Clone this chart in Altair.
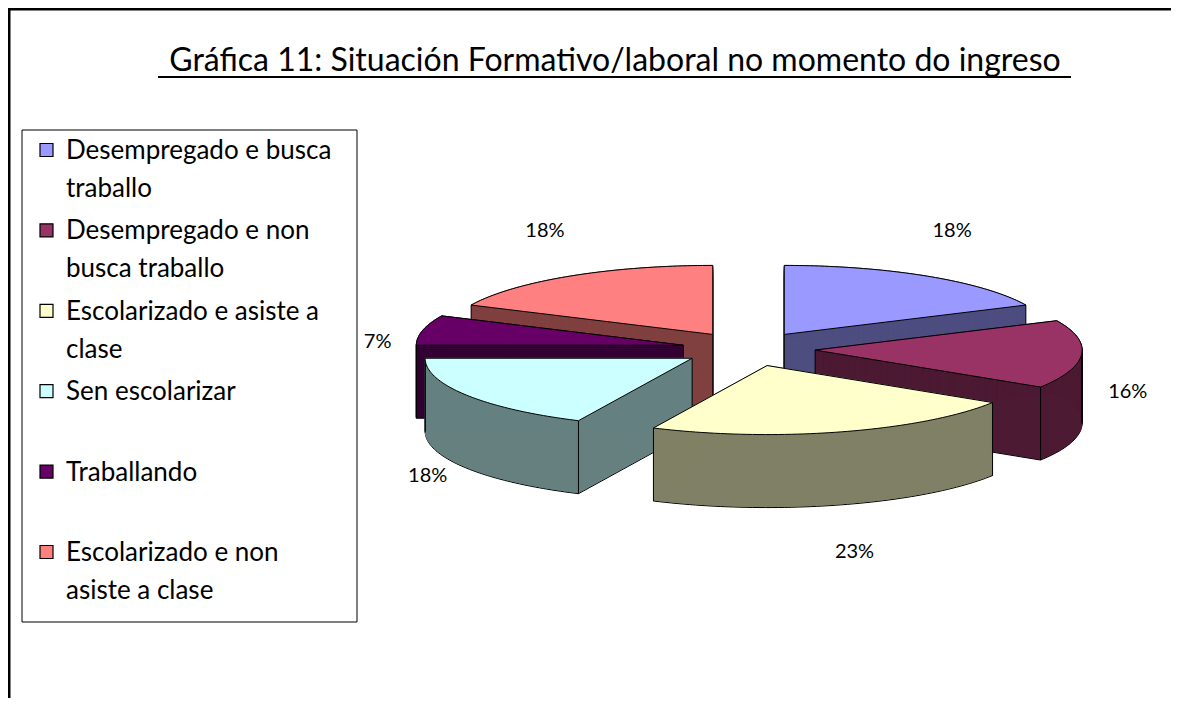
import math
import altair as alt
import pandas as pd

# ---------------- data ----------------
categories = [
    "Desempregado e busca traballo",
    "Desempregado e non busca traballo",
    "Escolarizado e asiste a clase",
    "Sen escolarizar",
    "Traballando",
    "Escolarizado e non asiste a clase",
]
legend_text = [
    "Desempregado e busca\ntraballo",
    "Desempregado e non\nbusca traballo",
    "Escolarizado e asiste a\nclase",
    "Sen escolarizar",
    "Traballando",
    "Escolarizado e non\nasiste a clase",
]
values = [18, 16, 23, 18, 7, 18]
title_text = "Gráfica 11: Situación Formativo/laboral no momento do ingreso"

# ---------------- style ----------------
top_colors = ["#9999FF", "#993366", "#FFFFCC", "#CCFFFF", "#660066", "#FF8080"]
side_colors = ["#4D4D80", "#4D1A33", "#808066", "#668080", "#330033", "#804040"]
FONT = "Lato"

W, H = 1163, 690
CX, CY = 740.5, 341.0      # pie centre (chart pixels)
RX, RY = 267.0, 69.0       # ellipse radii of the top face
EXPLODE = 0.25             # explosion as fraction of radius
DEPTH = 73                 # thickness of the pie
N = 60                     # arc segments per slice

df = pd.DataFrame({
    "cat": categories,
    "label": legend_text,
    "value": values,
    "idx": list(range(len(values))),
})

X = lambda f: alt.X(f, type="quantitative", scale=alt.Scale(domain=[0, W], nice=False, zero=False), axis=None)
Y = lambda f: alt.Y(f, type="quantitative", scale=alt.Scale(domain=[0, H], nice=False, zero=False, reverse=True), axis=None)

pie_base = (
    alt.Chart(df)
    .transform_joinaggregate(total="sum(value)")
    .transform_window(cum="sum(value)", sort=[alt.SortField("idx")], frame=[None, 0])
    .transform_calculate(
        a0="2*PI*(datum.cum - datum.value)/datum.total",
        a1="2*PI*datum.cum/datum.total",
    )
    .transform_calculate(mid="(datum.a0 + datum.a1)/2")
    .transform_calculate(
        ox=f"{CX} + {EXPLODE}*{RX}*sin(datum.mid)",
        oy=f"{CY} - {EXPLODE}*{RY}*cos(datum.mid)",
    )
)

poly_base = (
    pie_base
    .transform_calculate(k=f"sequence(0, {N + 3})")
    .transform_flatten(["k"])
    .transform_calculate(
        ang=f"datum.a0 + (datum.a1 - datum.a0)*clamp((datum.k - 1)/{N}, 0, 1)",
        onarc=f"datum.k >= 1 && datum.k <= {N + 1} ? 1 : 0",
    )
    .transform_calculate(
        px=f"datum.ox + datum.onarc*{RX}*sin(datum.ang)",
        py=f"datum.oy - datum.onarc*{RY}*cos(datum.ang)",
    )
)

# visible vertical edges of each slice
edge_vis = (
    f"(datum.k == 0 && (sin(datum.a0) < -1e-6 || sin(datum.a1) > 1e-6))"
    f" || (datum.k == 1 && (cos(datum.a0) < 0 || sin(datum.a0) < -1e-6))"
    f" || (datum.k == {N + 1} && (cos(datum.a1) < 0 || sin(datum.a1) > 1e-6))"
    f" || (datum.onarc == 1 && abs(sin(datum.ang)) > 0.9997)"
)

# painter's order: back (north) slices first
tot = sum(values)
cum = 0
mids = []
for v in values:
    mids.append(2 * math.pi * (cum + v / 2) / tot)
    cum += v
paint_order = sorted(range(len(values)), key=lambda i: -math.cos(mids[i]))

layers = []
for i in paint_order:
    sl = poly_base.transform_filter(f"datum.idx == {i}")
    bottom = (
        sl.transform_calculate(pyd=f"datum.py + {DEPTH}")
        .mark_line(fill=side_colors[i], stroke="black", strokeWidth=1)
        .encode(x=X("px"), y=Y("pyd"), order=alt.Order("k:Q"))
    )
    body = (
        sl.transform_calculate(d=f"sequence(0, {DEPTH}, 1)")
        .transform_flatten(["d"])
        .transform_calculate(pyd="datum.py + datum.d")
        .mark_line(fill=side_colors[i], stroke=side_colors[i], strokeWidth=1)
        .encode(x=X("px"), y=Y("pyd"), detail="d:Q", order=alt.Order("k:Q"))
    )
    edges = (
        sl.transform_filter(edge_vis)
        .transform_calculate(pyb=f"datum.py + {DEPTH}")
        .mark_rule(color="black", strokeWidth=1)
        .encode(x=X("px"), y=Y("py"), y2=alt.Y2("pyb:Q"))
    )
    top = (
        sl.mark_line(fill=top_colors[i], stroke="black", strokeWidth=1)
        .encode(x=X("px"), y=Y("py"), order=alt.Order("k:Q"))
    )
    layers += [bottom, body, edges, top]

# percentage labels
pct = (
    pie_base.transform_calculate(
        lx=f"{CX} + 380*sin(datum.mid)",
        ly=f"{CY} + 32 - 178*cos(datum.mid)",
        txt="datum.value + '%'",
    )
    .mark_text(font=FONT, fontSize=20, color="black", align="center", baseline="middle")
    .encode(x=X("lx"), y=Y("ly"), text="txt:N")
)
layers.append(pct)

# legend
LY = alt.Scale(domain=[0, 5], range=[142, 544], nice=False, zero=False)
legend_box = alt.Chart(pd.DataFrame({"a": [0]})).mark_rect(
    fill="white", stroke="black", strokeWidth=1
).encode(x=alt.value(14), x2=alt.value(349), y=alt.value(122), y2=alt.value(614))
legend_sym = alt.Chart(df).mark_square(size=169, stroke="black", strokeWidth=1.2, opacity=1).encode(
    x=alt.value(38.5),
    y=alt.Y("idx:Q", scale=LY, axis=None),
    fill=alt.Fill("idx:N", scale=alt.Scale(domain=list(range(6)), range=top_colors), legend=None),
)
legend_lbl = alt.Chart(df).mark_text(
    font=FONT, fontSize=26, align="left", baseline="alphabetic", dy=9, lineBreak="\n", lineHeight=38, color="black"
).encode(
    x=alt.value(58),
    y=alt.Y("idx:Q", scale=LY, axis=None),
    text="label:N",
)

# title + underline + outer frame
title_df = pd.DataFrame({"t": [title_text]})
title = alt.Chart(title_df).mark_text(
    font=FONT, fontSize=32, align="center", baseline="alphabetic", color="black"
).encode(x=alt.value(607), y=alt.value(63), text="t:N")
underline = alt.Chart(title_df).mark_rule(color="black", strokeWidth=2).encode(
    x=alt.value(150), x2=alt.value(1063), y=alt.value(69)
)
frame_top = alt.Chart(title_df).mark_rule(color="black", strokeWidth=2.5).encode(
    x=alt.value(0), x2=alt.value(W), y=alt.value(1.25)
)
frame_left = alt.Chart(title_df).mark_rule(color="black", strokeWidth=2.5).encode(
    x=alt.value(1.25), y=alt.value(0), y2=alt.value(H)
)

chart = (
    alt.layer(frame_top, frame_left, title, underline, legend_box, legend_sym, legend_lbl, *layers)
    .resolve_scale(x="independent", y="independent", fill="independent")
    .properties(width=W, height=H, padding=0, autosize=alt.AutoSizeParams(type="none"))
    .configure_view(stroke=None)
    .configure(background="white")
)

chart.save("out.html", embed_options={"renderer": "svg", "actions": False})
